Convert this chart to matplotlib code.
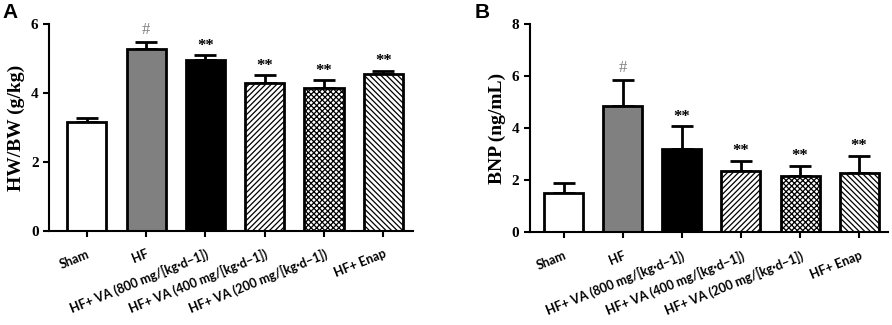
# HW/BW and BNP bar charts
import matplotlib
matplotlib.use('Agg')
import matplotlib.pyplot as plt
import numpy as np

# Groups and data
groups = ['Sham', 'HF', 'HF+ VA (800 mg/[kg·d−1])', 'HF+ VA (400 mg/[kg·d−1])',
          'HF+ VA (200 mg/[kg·d−1])', 'HF+ Enap']
hwbw_mean = [3.16, 5.27, 4.95, 4.30, 4.16, 4.54]
hwbw_err = [0.11, 0.20, 0.15, 0.21, 0.22, 0.11]
bnp_mean = [1.50, 4.87, 3.19, 2.35, 2.17, 2.28]
bnp_err = [0.38, 0.98, 0.90, 0.40, 0.39, 0.67]
marks = ['', '#', '**', '**', '**', '**']

# Bar styles
colors = ['white', '#808080', 'black', 'white', 'white', 'white']
hatches = ['', '', '', '//////', 'xxxxxx', '\\\\\\\\\\\\']

plt.rcParams['hatch.linewidth'] = 0.9

fig = plt.figure(figsize=(8.92, 3.25), dpi=100)
ax1 = fig.add_axes([0.0549, 0.289, 0.408, 0.637])
ax2 = fig.add_axes([0.594, 0.285, 0.401, 0.640])


def draw_panel(ax, means, errs, ymax, ylabel, xlim):
    x = np.arange(len(groups))
    ax.bar(x, means, width=0.66, color=colors, edgecolor='black',
           linewidth=2.0, hatch=hatches, zorder=2)
    ax.errorbar(x, means, yerr=[np.zeros(len(errs)), errs], fmt='none',
                ecolor='black', elinewidth=2.0, capsize=8, capthick=2.0, zorder=1)

    # Significance marks
    for i in range(len(groups)):
        if marks[i] == '#':
            ax.annotate(marks[i], (x[i], means[i] + errs[i]), xytext=(0, 3),
                        textcoords='offset points', ha='center', va='bottom',
                        fontsize=12, color='#808080', family='Liberation Serif')
        elif marks[i]:
            ax.annotate(marks[i], (x[i], means[i] + errs[i]), xytext=(0, 1),
                        textcoords='offset points', ha='center', va='bottom',
                        fontsize=12, fontweight='bold', color='black',
                        family='Liberation Serif')

    ax.set_ylim(0, ymax)
    ax.set_xlim(xlim)
    ax.set_yticks(np.arange(0, ymax + 1, 2))
    ax.set_xticks(x)
    ax.set_xticklabels(groups, rotation=22, ha='right', rotation_mode='anchor',
                       fontsize=9, fontweight='bold', family='Lato')
    for lab in ax.get_yticklabels():
        lab.set_family('Liberation Serif')
        lab.set_fontweight('bold')
        lab.set_fontsize(11)
    ax.set_ylabel(ylabel, fontsize=14, fontweight='bold', family='Liberation Serif')

    ax.spines['top'].set_visible(False)
    ax.spines['right'].set_visible(False)
    ax.spines['left'].set_linewidth(1.5)
    ax.spines['bottom'].set_linewidth(1.5)
    ax.tick_params(axis='both', direction='out', length=4, width=1.5)
    ax.tick_params(axis='x', pad=8)


draw_panel(ax1, hwbw_mean, hwbw_err, 6, 'HW/BW (g/kg)', (-0.64, 5.5))
draw_panel(ax2, bnp_mean, bnp_err, 8, 'BNP (ng/mL)', (-0.57, 5.48))

# Panel letters
fig.text(0.003, 0.99, 'A', fontsize=15, fontweight='bold', family='Liberation Sans',
         va='top', ha='left')
fig.text(0.532, 0.99, 'B', fontsize=15, fontweight='bold', family='Liberation Sans',
         va='top', ha='left')

fig.savefig('out.png', dpi=100)
